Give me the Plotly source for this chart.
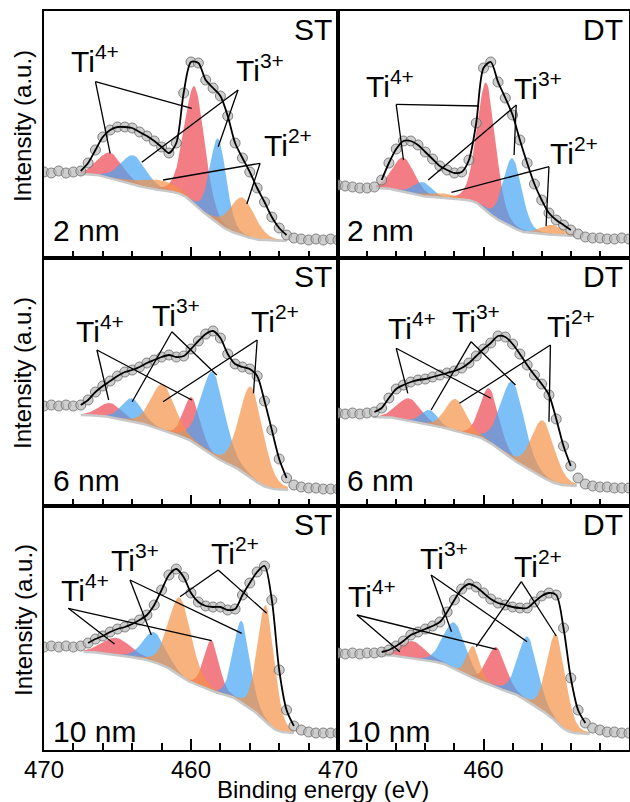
import numpy as np
import plotly.graph_objects as go

# ---------------- data ----------------
ENERGY = [470.0 - 0.5 * i for i in range(41)]   # binding energy of measured points (eV)

# measured intensities (a.u.), one value per ENERGY point
st2_counts = [86, 85, 87, 85, 86, 87, 95, 108, 121, 128, 131, 131, 130, 126, 122, 117, 111, 105, 115, 165,
              196, 195, 178, 170, 162, 142, 115, 100, 86, 70, 56, 41, 30, 23, 20, 19, 18, 19, 18, 19, 18]
dt2_counts = [73, 72, 71, 70, 70, 71, 78, 95, 109, 117, 117, 113, 106, 99, 92, 88, 85, 86, 98, 135,
              190, 196, 176, 160, 143, 118, 95, 74, 58, 45, 38, 33, 28, 24, 21, 20, 20, 19, 19, 20, 19]
st6_counts = [100, 101, 100, 101, 100, 101, 106, 114, 120, 125, 130, 134, 136, 139, 143, 146, 149, 151, 149, 150,
              157, 165, 172, 175, 168, 152, 142, 139, 137, 130, 105, 76, 47, 28, 21, 19, 18, 18, 17, 17, 17]
dt6_counts = [93, 92, 93, 92, 93, 94, 98, 108, 117, 121, 124, 126, 127, 129, 131, 133, 135, 138, 143, 150,
              157, 163, 170, 169, 162, 152, 141, 131, 122, 111, 87, 60, 40, 28, 22, 20, 19, 19, 18, 18, 18]
st10_counts = [103, 104, 103, 104, 103, 104, 107, 111, 114, 118, 121, 123, 126, 130, 135, 145, 160, 175, 181, 173,
               157, 148, 144, 143, 143, 140, 141, 155, 167, 178, 184, 150, 80, 40, 24, 20, 18, 17, 17, 17, 17]
dt10_counts = [97, 96, 97, 96, 97, 97, 98, 100, 104, 109, 115, 118, 121, 124, 128, 138, 150, 161, 166, 163,
               157, 151, 147, 145, 143, 142, 142, 148, 154, 157, 155, 122, 72, 40, 27, 22, 20, 18, 18, 17, 17]

# fitted components, order: Ti4+ 2p3/2, Ti4+ 2p1/2, Ti3+ 2p3/2, Ti3+ 2p1/2, Ti2+ 2p3/2, Ti2+ 2p1/2
st2_center = [459.75, 465.5, 458.15, 463.9, 456.5, 462.2]
st2_height = [118, 25, 85, 29, 38, 10]
st2_fwhm = [1.6, 2.0, 1.3, 2.0, 2.0, 3.0]
dt2_center = [459.8, 465.5, 458.0, 464.15, 455.3, 462.8]
dt2_height = [128, 34, 69, 14, 10, 5]
dt2_fwhm = [1.5, 1.8, 1.5, 1.5, 1.8, 2.5]
st6_center = [459.95, 465.5, 458.5, 464.0, 455.9, 461.9]
st6_height = [44, 14, 83, 23, 91, 46]
st6_fwhm = [1.3, 1.8, 1.9, 1.6, 1.9, 1.9]
dt6_center = [459.6, 465.1, 458.0, 463.7, 455.9, 461.9]
dt6_height = [54, 22, 77, 15, 57, 32]
dt6_fwhm = [1.5, 1.9, 1.9, 1.3, 1.85, 1.7]
st10_center = [458.6, 465.05, 456.55, 462.5, 454.9, 460.75]
st10_height = [50, 17, 82, 30, 116, 78]
st10_fwhm = [1.2, 2.3, 1.3, 1.8, 1.35, 1.8]
dt10_center = [459.1, 464.85, 456.95, 462.0, 455.0, 460.7]
dt10_height = [40, 17, 65, 46, 88, 32]
dt10_fwhm = [1.5, 2.0, 1.6, 1.8, 1.5, 1.0]

# Shirley background end values [high-BE end, low-BE end] and fit windows [high, low] (eV)
st2_bg, st2_window = [84, 17], [467.6, 453.5]
dt2_bg, dt2_window = [70, 22], [467.4, 453.7]
st6_bg, st6_window = [91, 16], [467.5, 453.4]
dt6_bg, dt6_window = [89, 20], [467.6, 453.6]
st10_bg, st10_window = [98, 17], [467.3, 453.0]
dt10_bg, dt10_window = [95, 16], [467.35, 452.7]

panel_tags = ["ST", "DT", "ST", "DT", "ST", "DT"]
panel_thick = ["2 nm", "2 nm", "6 nm", "6 nm", "10 nm", "10 nm"]
states = ["Ti<sup>4+</sup>", "Ti<sup>3+</sup>", "Ti<sup>2+</sup>"]

panels = [
    (st2_counts, st2_center, st2_height, st2_fwhm, st2_bg, st2_window),
    (dt2_counts, dt2_center, dt2_height, dt2_fwhm, dt2_bg, dt2_window),
    (st6_counts, st6_center, st6_height, st6_fwhm, st6_bg, st6_window),
    (dt6_counts, dt6_center, dt6_height, dt6_fwhm, dt6_bg, dt6_window),
    (st10_counts, st10_center, st10_height, st10_fwhm, st10_bg, st10_window),
    (dt10_counts, dt10_center, dt10_height, dt10_fwhm, dt10_bg, dt10_window),
]

# label layout per panel: for each state (label left E, label baseline, vertex E, vertex y, end1, end2)
label_geo = [
    [(468.23, 184.7, 466.5, 176.3, (465.5, 104.7), (459.95, 149.7)),
     (457.0, 176.3, 456.8, 168.0, (458.15, 111.3), (463.35, 95.7)),
     (455.08, 101.3, 455.3, 94.7, (456.2, 54.0), (461.9, 78.0))],
    [(468.15, 159.7, 466.0, 153.7, (465.5, 98.0), (460.3, 152.0)),
     (458.0, 158.0, 457.75, 153.0, (457.9, 103.0), (463.8, 78.0)),
     (455.5, 93.0, 455.5, 91.3, (455.7, 32.0), (462.2, 65.7))],
    [(467.9, 162.7, 466.4, 156.0, (465.6, 106.0), (459.95, 106.0)),
     (462.7, 179.3, 461.3, 174.3, (464.0, 104.3), (458.25, 131.0)),
     (456.0, 172.7, 455.5, 166.0, (455.75, 112.7), (461.9, 104.3))],
    [(466.65, 166.0, 466.0, 157.7, (465.2, 112.7), (459.5, 107.7)),
     (462.2, 172.7, 460.85, 164.3, (463.6, 96.0), (457.8, 121.0)),
     (455.7, 167.7, 455.4, 161.0, (455.5, 84.3), (461.65, 102.7))],
    [(468.9, 148.3, 468.35, 141.7, (465.2, 106.0), (458.6, 109.3)),
     (465.5, 178.3, 464.15, 170.0, (462.7, 115.0), (456.55, 116.7)),
     (458.7, 185.0, 458.15, 180.0, (460.75, 153.3), (454.85, 136.7))],
    [(469.4, 141.7, 468.7, 135.0, (465.75, 98.3), (459.1, 100.7)),
     (464.4, 180.0, 463.6, 175.0, (462.2, 118.3), (457.0, 108.3)),
     (458.0, 171.7, 457.4, 168.3, (460.5, 103.3), (455.0, 114.0))],
]

# ---------------- styling ----------------
FONT = "Liberation Sans, Arial, sans-serif"
W, H = 630, 802
col_px = [(44, 338), (338, 629)]
row_px = [(11, 258), (258, 506), (506, 750)]
thick_shift = [9, 7, 0]
fills = ["rgba(238,70,80,0.7)", "rgba(70,165,245,0.7)", "rgba(245,145,70,0.7)"]


def component(e, c, h, w, eta=0.2):
    x = (e - c) / w
    return h * ((1 - eta) * np.exp(-4 * np.log(2) * x ** 2) + eta / (1 + 4 * x ** 2))


fig = go.Figure()
layout = dict(width=W, height=H, margin=dict(l=0, r=0, t=0, b=0, autoexpand=False),
              paper_bgcolor="white", plot_bgcolor="white", showlegend=False,
              font=dict(family=FONT, color="black"))
annotations = []
shapes = []

for i, (counts, cen, hei, fw, bgv, win) in enumerate(panels):
    r, c = divmod(i, 2)
    ax = "" if i == 0 else str(i + 1)
    xr, yr = "x" + ax, "y" + ax
    x0, x1 = col_px[c]
    y0, y1 = row_px[r]
    ymax = y1 - y0
    layout["xaxis" + ax] = dict(
        domain=[x0 / W, x1 / W], range=[470, 450], anchor=yr, automargin=False,
        showline=True, mirror=True, linewidth=2, linecolor="black",
        showgrid=False, zeroline=False, ticks="inside", ticklen=11, tickwidth=1.5, tickcolor="black",
        tickmode="array", tickvals=[470, 460], ticktext=["470", "460"], ticklabelstandoff=-3,
        showticklabels=(r == 2), tickfont=dict(size=24, family=FONT),
        minor=dict(tickmode="linear", tick0=450, dtick=2, ticks="inside", ticklen=7,
                   tickwidth=1.5, tickcolor="black", showgrid=False),
    )
    layout["yaxis" + ax] = dict(
        domain=[1 - y1 / H, 1 - y0 / H], range=[0, ymax], anchor=xr, automargin=False,
        showline=True, mirror=True, linewidth=2, linecolor="black",
        showgrid=False, zeroline=False, ticks="", showticklabels=False,
    )

    e = np.linspace(win[1], win[0], 500)
    comps = [component(e, cc, hh, ww) for cc, hh, ww in zip(cen, hei, fw)]
    s = np.sum(comps, axis=0)
    area = np.concatenate([[0.0], np.cumsum((s[1:] + s[:-1]) / 2 * np.diff(e))])
    bg = bgv[1] + (bgv[0] - bgv[1]) * area / area[-1]

    for k, comp in enumerate(comps):
        fig.add_trace(go.Scatter(
            x=np.concatenate([e, e[::-1]]), y=np.concatenate([bg + comp, bg[::-1]]),
            mode="lines", fill="toself", fillcolor=fills[k // 2], line=dict(width=0),
            xaxis=xr, yaxis=yr, hoverinfo="skip"))
    fig.add_trace(go.Scatter(x=e, y=bg, mode="lines", line=dict(color="rgb(200,200,200)", width=2.5),
                             xaxis=xr, yaxis=yr, hoverinfo="skip"))
    fig.add_trace(go.Scatter(x=ENERGY, y=counts, mode="markers",
                             marker=dict(size=10, color="rgba(185,185,185,0.7)",
                                         line=dict(width=1, color="rgba(110,110,110,0.85)")),
                             xaxis=xr, yaxis=yr))
    sel = [(x, y) for x, y in zip(ENERGY, counts) if win[1] - 0.01 <= x <= win[0] + 0.01]
    fig.add_trace(go.Scatter(x=[p[0] for p in sel], y=[p[1] for p in sel], mode="lines",
                             line=dict(color="black", width=1.8, shape="spline", smoothing=0.8),
                             xaxis=xr, yaxis=yr))

    # panel labels
    annotations.append(dict(text=panel_tags[i], xref=xr + " domain", yref=yr + " domain", x=1, y=1,
                            xanchor="right", yanchor="top", xshift=-4, yshift=0, showarrow=False,
                            font=dict(size=30, family=FONT)))
    annotations.append(dict(text=panel_thick[i], xref=xr + " domain", yref=yr + " domain", x=0, y=0,
                            xanchor="left", yanchor="bottom", xshift=7, yshift=thick_shift[r],
                            showarrow=False, font=dict(size=30, family=FONT)))
    # oxidation-state labels with leader lines
    for k, (lx, ly, vx, vy, p1, p2) in enumerate(label_geo[i]):
        annotations.append(dict(text=states[k], xref=xr, yref=yr, x=lx, y=ly, xanchor="left",
                                yanchor="bottom", yshift=-7, xshift=-1, showarrow=False,
                                font=dict(size=30, family=FONT)))
        for p in (p1, p2):
            shapes.append(dict(type="line", xref=xr, yref=yr, x0=vx, y0=vy, x1=p[0], y1=p[1],
                               line=dict(color="black", width=1.3)))

for r in range(3):
    yc = [126, 373, 620][r]
    annotations.append(dict(text="Intensity (a.u.)", xref="paper", yref="paper", x=23 / W, y=1 - yc / H,
                            xanchor="center", yanchor="middle", textangle=-90, showarrow=False,
                            font=dict(size=24, family=FONT)))
annotations.append(dict(text="Binding energy (eV)", xref="paper", yref="paper", x=323 / W, y=1 - 797 / H,
                        xanchor="center", yanchor="bottom", yshift=-8, showarrow=False,
                        font=dict(size=24, family=FONT)))

layout["annotations"] = annotations
layout["shapes"] = shapes
fig.update_layout(**layout)
fig.write_html("out.html")
